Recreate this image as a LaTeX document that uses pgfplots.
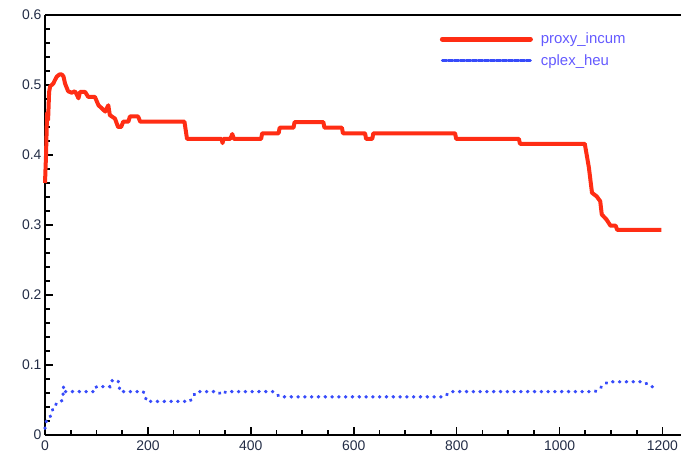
\documentclass[border=0pt]{standalone}
\usepackage{pgfplots}
\pgfplotsset{compat=1.18}
\usepackage{fontspec}
\setmainfont{Liberation Sans}
\definecolor{redline}{RGB}{255,45,20}
\definecolor{blueline}{RGB}{55,75,250}
\definecolor{ticklab}{RGB}{35,45,70}
\definecolor{legtext}{RGB}{100,90,255}
\begin{document}
\begin{tikzpicture}
\begin{axis}[
  at={(45bp,30bp)}, anchor=south west,
  scale only axis, width=636bp, height=420bp,
  xmin=0, xmax=1236, ymin=0, ymax=0.6,
  axis lines*=left,
  axis line style={line width=2.5bp, black},
  xtick={0,200,...,1200}, minor x tick num=3,
  ytick={0,0.1,0.2,0.3,0.4,0.5,0.6}, minor y tick num=4,
  tick align=inside,
  major tick length=8bp, minor tick length=5bp,
  every tick/.style={line width=1.6bp, black},
  tick label style={font=\fontsize{14}{16}\selectfont, text=ticklab},
  /pgf/number format/assume math mode=true,
  yticklabel style={/pgf/number format/fixed, /pgf/number format/precision=1},
  xticklabel style={/pgf/number format/1000 sep={}, yshift=-2bp},
  legend style={at={(0.619,0.965)}, anchor=north west, draw=none, fill=none,
    font=\fontsize{15}{17}\selectfont, text=legtext,
    row sep=5bp, column sep=6bp, inner sep=1bp},
  legend cell align=left,
  clip=false,
]
\addplot[redline, line width=4bp, line join=round,
  legend image code/.code={\draw[redline, line width=5bp, line cap=round] (0bp,0bp) -- (88bp,0bp);}]
coordinates {
(0,0.36) (2,0.40) (4,0.46) (6,0.45) (7,0.47) (8,0.49) (10,0.498) (16,0.502)
(20,0.508) (23,0.512) (28,0.515) (33,0.515) (36,0.512) (39,0.502) (45,0.491)
(52,0.489) (58,0.491) (62,0.486) (65,0.481) (68,0.490) (78,0.490) (84,0.483)
(97,0.483) (104,0.471) (110,0.467) (117,0.462) (123,0.471) (126,0.457)
(136,0.452) (142,0.440) (148,0.440) (152,0.4476) (162,0.4476) (165,0.455)
(181,0.455) (185,0.4476) (271,0.4476) (276,0.423) (343,0.423) (345,0.417)
(347,0.423) (360,0.423) (364,0.430) (367,0.423) (420,0.423) (422,0.431)
(454,0.431) (456,0.439) (483,0.439) (485,0.447) (541,0.447) (543,0.439)
(577,0.439) (579,0.431) (622,0.431) (624,0.423) (636,0.423) (638,0.431)
(797,0.431) (799,0.423) (921,0.423) (923,0.416) (1049,0.416) (1057,0.382)
(1063,0.346) (1072,0.341) (1079,0.334) (1082,0.315) (1091,0.308)
(1099,0.299) (1109,0.299) (1112,0.293) (1198,0.293)
};
\addlegendentry{proxy\_incum}
\addplot[blueline, line width=3.4bp, line cap=round, dash pattern=on 0.4bp off 6.4bp,
  legend image code/.code={\draw[blueline, line width=3bp, dash pattern=on 4.5bp off 1.5bp] (0bp,0bp) -- (88bp,0bp);}]
coordinates {
(0,0.0095) (3,0.021) (10,0.026) (13,0.033) (19,0.043) (32,0.048) (35,0.057)
(36,0.069) (38,0.062) (42,0.062) (97,0.062) (100,0.069) (126,0.069)
(130,0.0776) (142,0.0776) (146,0.062) (191,0.062) (198,0.048) (282,0.048)
(287,0.055) (295,0.062) (336,0.062) (343,0.0576) (352,0.062) (443,0.062)
(457,0.0545) (774,0.0545) (790,0.062) (1069,0.062) (1082,0.069)
(1094,0.076) (1163,0.076) (1170,0.073) (1179,0.069) (1191,0.069)
};
\addlegendentry{cplex\_heu}
\draw[line width=2.5bp, black] (rel axis cs:0,1) -- (rel axis cs:1,1);
\end{axis}
\pgfresetboundingbox
\path[use as bounding box] (0,0) rectangle (681bp,465bp);
\end{tikzpicture}
\end{document}
